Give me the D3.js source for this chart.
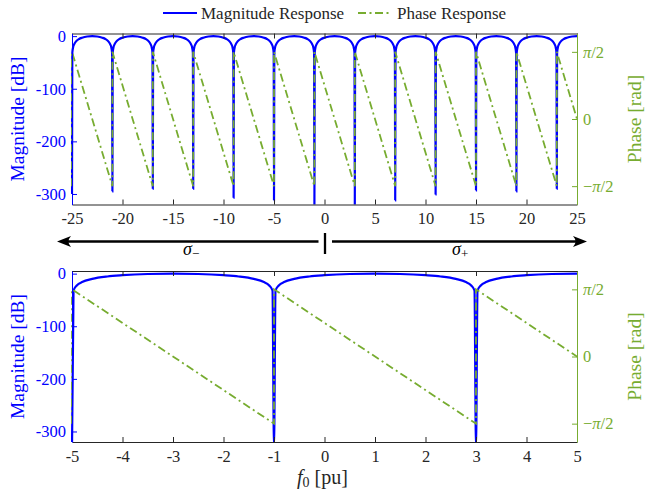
<!DOCTYPE html>
<html>
<head>
<meta charset="utf-8">
<script src="https://cdn.jsdelivr.net/npm/d3@7"></script>
<style>
  body { margin: 0; background: #fff; }
  text { font-family: "Liberation Serif", serif; }
</style>
</head>
<body>
<div id="chart"></div>
<script>
const width = 647
const height = 498
const blue = "#0000ff"
const green = "#77ac30"
const ink = "#262626"

// ticks
const topTicksX = [-25, -20, -15, -10, -5, 0, 5, 10, 15, 20, 25]
const bottomTicksX = [-5, -4, -3, -2, -1, 0, 1, 2, 3, 4, 5]
const magTicks = [0, -100, -200, -300]
const phaseTicks = [Math.PI / 2, 0, -Math.PI / 2]
const phaseTickLabels = ["\u03c0/2", "0", "\u2212\u03c0/2"]

// notch positions (pu) and the depth each one reaches (dB)
const topNotches = [-25, -21, -17, -13, -9, -5, -1, 3, 7, 11, 15, 19, 23]
const topNotchDb = [-300, -295, -290, -290, -307, -312, -330, -330, -312, -301, -293, -295, -290]
const bottomNotches = [-5, -1, 3]
const bottomNotchDb = [-330, -330, -330]

// shape of one lobe between two notches: offset from notch (pu) -> dB
const lobeOffset = [0.03, 0.1, 0.2, 0.4, 0.7, 1, 1.5, 2, 2.5, 3, 3.3, 3.6, 3.8, 3.9, 3.97]
const lobeDb = [-32, -22, -16, -10, -5.4, -3, -0.7, 0, -0.7, -3, -5.4, -10, -16, -22, -32]
const lobeLength = 4

// phase ramps from +pi/2 just after a notch down to -pi/2 at the next one
const phaseHigh = Math.PI / 2
const phaseLow = -Math.PI / 2

const svg = d3.select("#chart")
    .append("svg")
    .attr("width", width)
    .attr("height", height)

const left = 72, right = 577
const tickFont = "16.5px"
const labelFont = "19.5px"
const dash = "8,3.5,2,3.5"

const panels = [
    { id: "top", top: 33.5, bottom: 204.5, xDomain: [-25, 25], ticks: topTicksX, notches: topNotches, depth: topNotchDb },
    { id: "bot", top: 271, bottom: 442, xDomain: [-5, 5], ticks: bottomTicksX, notches: bottomNotches, depth: bottomNotchDb }
]

panels.forEach(p => {
    const x = d3.scaleLinear().domain(p.xDomain).range([left, right])
    const y = d3.scaleLinear().domain([-320, 5]).range([p.bottom, p.top])
    const yp = d3.scaleLinear().domain([-2, 2]).range([p.bottom, p.top])

    // series
    let mag = []
    let phase = []
    p.notches.forEach((n, i) => {
        mag.push({ f: n, v: p.depth[i] })
        lobeOffset.forEach((o, j) => mag.push({ f: n + o, v: lobeDb[j] }))
        phase.push({ f: n, v: phaseLow })
        phase.push({ f: n, v: phaseHigh })
    })
    const last = p.notches[p.notches.length - 1]
    phase.push({ f: last + lobeLength, v: phaseLow })

    svg.append("clipPath").attr("id", "clip-" + p.id)
        .append("rect")
        .attr("x", left - 1).attr("y", p.top)
        .attr("width", right - left + 1).attr("height", p.bottom - p.top)

    const g = svg.append("g").attr("clip-path", `url(#clip-${p.id})`)

    const magLine = d3.line().x(d => x(d.f)).y(d => y(d.v)).curve(d3.curveMonotoneX)
    const phaseLine = d3.line().x(d => x(d.f)).y(d => yp(d.v))

    g.append("path")
        .attr("d", magLine(mag))
        .attr("fill", "none")
        .attr("stroke", blue)
        .attr("stroke-width", 2.2)

    g.append("path")
        .attr("d", phaseLine(phase))
        .attr("fill", "none")
        .attr("stroke", green)
        .attr("stroke-width", 1.8)
        .attr("stroke-dasharray", dash)

    // axes
    const xb = svg.append("g")
        .attr("transform", `translate(0,${p.bottom})`)
        .call(d3.axisBottom(x).tickValues(p.ticks).tickSizeInner(-5).tickSizeOuter(0).tickPadding(8)
            .tickFormat(d => String(d)))
    const xt = svg.append("g")
        .attr("transform", `translate(0,${p.top})`)
        .call(d3.axisTop(x).tickValues(p.ticks).tickSizeInner(-5).tickSizeOuter(0).tickFormat(""))
    const yl = svg.append("g")
        .attr("transform", `translate(${left},0)`)
        .call(d3.axisLeft(y).tickValues(magTicks).tickSizeInner(-5).tickSizeOuter(0).tickPadding(6)
            .tickFormat(d => String(d)))
    const yr = svg.append("g")
        .attr("transform", `translate(${right},0)`)
        .call(d3.axisRight(yp).tickValues(phaseTicks).tickSizeInner(-5).tickSizeOuter(0).tickPadding(6)
            .tickFormat((d, i) => phaseTickLabels[i]))

    ;[xb, xt].forEach(a => {
        a.selectAll("path, line").attr("stroke", ink)
        a.selectAll("text").attr("fill", ink).style("font-size", tickFont).style("font-family", "Liberation Serif")
    })
    yl.selectAll("path, line").attr("stroke", blue)
    yl.selectAll("text").attr("fill", blue).style("font-size", tickFont).style("font-family", "Liberation Serif")
    yr.selectAll("path, line").attr("stroke", green)
    yr.selectAll("text").attr("fill", green).style("font-size", tickFont).style("font-family", "Liberation Serif")
    yr.selectAll("text").each(function (d, i) {
        const t = d3.select(this)
        const lbl = phaseTickLabels[i]
        t.text(null)
        if (lbl.includes("\u03c0")) {
            const [pre, post] = lbl.split("\u03c0")
            if (pre) t.append("tspan").text(pre)
            t.append("tspan").attr("font-style", "italic").text("\u03c0")
            t.append("tspan").text(post)
        } else t.text(lbl)
    })

    const mid = (p.top + p.bottom) / 2
    svg.append("text")
        .attr("transform", `translate(24,${mid}) rotate(-90)`)
        .attr("text-anchor", "middle")
        .attr("fill", blue)
        .style("font-size", labelFont)
        .text("Magnitude [dB]")
    svg.append("text")
        .attr("transform", `translate(641,${mid}) rotate(-90)`)
        .attr("text-anchor", "middle")
        .attr("fill", green)
        .style("font-size", labelFont)
        .text("Phase [rad]")
})

// legend
const legend = svg.append("g").attr("transform", "translate(0,13)")
legend.append("line").attr("x1", 163).attr("x2", 197).attr("y1", 0).attr("y2", 0)
    .attr("stroke", blue).attr("stroke-width", 2.2)
legend.append("text").attr("x", 201).attr("y", 5.5).attr("fill", ink)
    .style("font-size", "17px").text("Magnitude Response")
legend.append("line").attr("x1", 358).attr("x2", 392).attr("y1", 0).attr("y2", 0)
    .attr("stroke", green).attr("stroke-width", 1.8).attr("stroke-dasharray", dash)
legend.append("text").attr("x", 397).attr("y", 5.5).attr("fill", ink)
    .style("font-size", "17px").text("Phase Response")

// sigma arrows
const ay = 241.5
svg.append("line").attr("x1", 318.5).attr("x2", 62).attr("y1", ay).attr("y2", ay)
    .attr("stroke", "#000").attr("stroke-width", 2.3)
svg.append("path").attr("d", `M57,${ay} L71,${ay - 5.5} Q66,${ay} 71,${ay + 5.5} Z`).attr("fill", "#000")
svg.append("line").attr("x1", 332).attr("x2", 582).attr("y1", ay).attr("y2", ay)
    .attr("stroke", "#000").attr("stroke-width", 2.3)
svg.append("path").attr("d", `M587,${ay} L573,${ay - 5.5} Q578,${ay} 573,${ay + 5.5} Z`).attr("fill", "#000")
svg.append("line").attr("x1", 325).attr("x2", 325).attr("y1", 233).attr("y2", 254)
    .attr("stroke", "#000").attr("stroke-width", 2.3)

const sigMinus = svg.append("text").attr("x", 183).attr("y", 255).style("font-size", "18px").attr("fill", "#000")
sigMinus.append("tspan").attr("font-style", "italic").text("\u03c3")
sigMinus.append("tspan").attr("dy", 3).style("font-size", "13px").text("\u2212")
const sigPlus = svg.append("text").attr("x", 452).attr("y", 255).style("font-size", "18px").attr("fill", "#000")
sigPlus.append("tspan").attr("font-style", "italic").text("\u03c3")
sigPlus.append("tspan").attr("dy", 3).style("font-size", "13px").text("+")

// x label
const xl = svg.append("text").attr("x", 297).attr("y", 484).style("font-size", "20px").attr("fill", ink)
xl.append("tspan").attr("font-style", "italic").text("f")
xl.append("tspan").attr("dy", 3).style("font-size", "14px").text("0")
xl.append("tspan").attr("dy", -3).text(" [pu]")
</script>
</body>
</html>
